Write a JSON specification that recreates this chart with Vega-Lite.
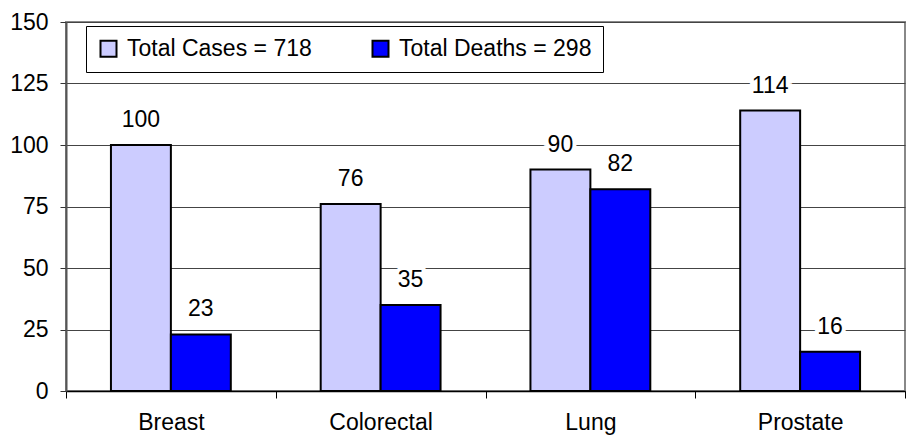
{
  "$schema": "https://vega.github.io/schema/vega-lite/v6.json",
  "width": 839,
  "height": 369,
  "autosize": {"type": "none"},
  "padding": {"left": 66, "top": 22, "right": 2, "bottom": 46},
  "background": "white",
  "config": {
    "font": "Liberation Sans",
    "view": {"stroke": "#888888", "strokeWidth": 2}
  },
  "data": {
    "values": [
      {"site": "Breast", "measure": "Total Cases = 718", "count": 100},
      {"site": "Breast", "measure": "Total Deaths = 298", "count": 23},
      {"site": "Colorectal", "measure": "Total Cases = 718", "count": 76},
      {"site": "Colorectal", "measure": "Total Deaths = 298", "count": 35},
      {"site": "Lung", "measure": "Total Cases = 718", "count": 90},
      {"site": "Lung", "measure": "Total Deaths = 298", "count": 82},
      {"site": "Prostate", "measure": "Total Cases = 718", "count": 114},
      {"site": "Prostate", "measure": "Total Deaths = 298", "count": 16}
    ]
  },
  "encoding": {
    "x": {
      "field": "site",
      "type": "nominal",
      "sort": ["Breast", "Colorectal", "Lung", "Prostate"],
      "scale": {"paddingInner": 0, "paddingOuter": 0},
      "axis": {
        "title": null,
        "labelAngle": 0,
        "labelFontSize": 23,
        "labelColor": "black",
        "labelPadding": 13,
        "tickBand": "extent",
        "tickSize": 7,
        "tickColor": "black",
        "domainColor": "black",
        "domainWidth": 1.5,
        "grid": false
      }
    },
    "xOffset": {
      "field": "measure",
      "type": "nominal",
      "scale": {"paddingInner": 0, "paddingOuter": 0.75}
    },
    "y": {
      "field": "count",
      "type": "quantitative",
      "scale": {"domain": [0, 150], "nice": false},
      "axis": {
        "title": null,
        "values": [0, 25, 50, 75, 100, 125, 150],
        "labelFontSize": 23,
        "labelColor": "black",
        "labelPadding": 12,
        "tickSize": 6,
        "tickColor": "#333333",
        "domainColor": "#555555",
        "domainWidth": 2,
        "grid": true,
        "gridColor": "#444444",
        "gridWidth": 1
      }
    }
  },
  "layer": [
    {
      "mark": {"type": "bar", "stroke": "black", "strokeWidth": 2},
      "encoding": {
        "color": {
          "field": "measure",
          "type": "nominal",
          "scale": {
            "domain": ["Total Cases = 718", "Total Deaths = 298"],
            "range": ["#CCCCFF", "#0000FF"]
          },
          "legend": {
            "title": null,
            "orient": "none",
            "legendX": 20,
            "legendY": 4,
            "direction": "horizontal",
            "columns": 2,
            "padding": 11,
            "fillColor": "white",
            "strokeColor": "black",
            "symbolType": "square",
            "symbolSize": 256,
            "symbolStrokeColor": "black",
            "symbolStrokeWidth": 2,
            "symbolOpacity": 1,
            "labelFontSize": 23,
            "labelColor": "black",
            "labelOffset": 7,
            "columnPadding": 56,
            "labelLimit": 400
          }
        }
      }
    },
    {
      "mark": {"type": "text", "fontSize": 23, "dy": -18, "baseline": "alphabetic", "stroke": "white", "strokeWidth": 8, "fill": "white"},
      "encoding": {"text": {"field": "count", "type": "quantitative"}}
    },
    {
      "mark": {"type": "text", "fontSize": 23, "dy": -18, "baseline": "alphabetic", "fill": "black"},
      "encoding": {"text": {"field": "count", "type": "quantitative"}}
    }
  ]
}
